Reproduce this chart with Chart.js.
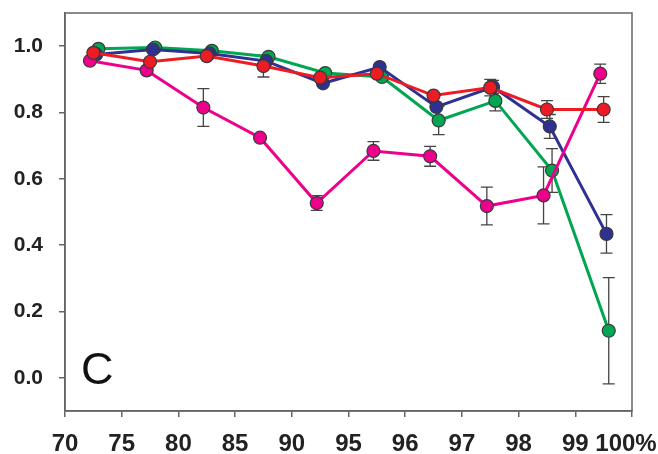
<!DOCTYPE html>
<html>
<head>
<meta charset="utf-8">
<script src="https://cdn.jsdelivr.net/npm/chart.js@4"></script>
<style>
  html, body { margin: 0; padding: 0; background: #fff; }
  #wrap { width: 658px; height: 454px; }
</style>
</head>
<body>
<div id="wrap"><canvas id="chart"></canvas></div>
<script>
// tick labels (x axis is evenly spaced, not linear in %)
const xTickLabels = ['70', '75', '80', '85', '90', '95', '96', '97', '98', '99', '100%'];
const yTicks = [0.0, 0.2, 0.4, 0.6, 0.8, 1.0];

// series values, one per interval
const pink = [0.956, 0.927, 0.815, 0.724, 0.527, 0.684, 0.668, 0.518, 0.550, 0.917];
const pinkErr = [0, 0, 0.057, 0, 0.022, 0.028, 0.030, 0.057, 0.086, 0.029];
const red = [0.980, 0.953, 0.970, 0.940, 0.905, 0.917, 0.851, 0.875, 0.809, 0.809];
const redErr = [0, 0, 0, 0.033, 0, 0, 0, 0.025, 0.027, 0.039];
const blue = [0.975, 0.990, 0.978, 0.955, 0.888, 0.937, 0.817, 0.877, 0.758, 0.434];
const blueErr = [0, 0, 0, 0, 0, 0, 0.010, 0.020, 0.036, 0.058];
const green = [0.992, 0.996, 0.986, 0.968, 0.919, 0.907, 0.776, 0.835, 0.625, 0.142];
const greenErr = [0, 0, 0, 0, 0, 0, 0.043, 0.030, 0.066, 0.160];

const panelLabel = 'C';

function points(values, shift) {
  return values.map((v, i) => ({ x: i + 0.5 + shift, y: v }));
}

function series(values, errs, color, shift) {
  return {
    data: points(values, shift),
    errs: errs,
    borderColor: color,
    backgroundColor: color,
    borderWidth: 3,
    pointRadius: 6.5,
    pointBorderColor: '#3a3a3a',
    pointBorderWidth: 1.2,
    pointBackgroundColor: color,
    tension: 0
  };
}

const errorBars = {
  id: 'errorBars',
  beforeDatasetsDraw(chart) {
    const ctx = chart.ctx;
    const xs = chart.scales.x, ys = chart.scales.y;
    ctx.save();
    ctx.strokeStyle = '#444';
    ctx.lineWidth = 1.3;
    chart.data.datasets.forEach(ds => {
      ds.data.forEach((p, i) => {
        const e = ds.errs[i];
        if (!e) return;
        const px = xs.getPixelForValue(p.x);
        const top = ys.getPixelForValue(p.y + e);
        const bot = ys.getPixelForValue(p.y - e);
        ctx.beginPath();
        ctx.moveTo(px, top); ctx.lineTo(px, bot);
        ctx.moveTo(px - 6, top); ctx.lineTo(px + 6, top);
        ctx.moveTo(px - 6, bot); ctx.lineTo(px + 6, bot);
        ctx.stroke();
      });
    });
    ctx.restore();
  }
};

const frame = {
  id: 'frame',
  afterDraw(chart) {
    const { ctx, chartArea: a } = chart;
    ctx.save();
    ctx.strokeStyle = '#666';
    ctx.lineWidth = 1.5;
    ctx.strokeRect(a.left, a.top, a.right - a.left, a.bottom - a.top);
    ctx.fillStyle = '#111';
    ctx.font = '45px "Liberation Sans", Arial, sans-serif';
    ctx.textBaseline = 'alphabetic';
    ctx.fillText(panelLabel, a.left + 16, chart.scales.y.getPixelForValue(0) + 6);
    ctx.restore();
  }
};

new Chart(document.getElementById('chart'), {
  type: 'line',
  data: {
    datasets: [
      series(red, redErr, '#ec1c24', 0),
      series(pink, pinkErr, '#ec008c', -0.06),
      series(blue, blueErr, '#2e3192', 0.05),
      series(green, greenErr, '#00a651', 0.09)
    ]
  },
  options: {
    responsive: true,
    maintainAspectRatio: false,
    animation: false,
    layout: { padding: { top: 13, left: 0, right: 0, bottom: 0 } },
    plugins: { legend: { display: false }, tooltip: { enabled: false } },
    scales: {
      x: {
        type: 'linear',
        min: 0,
        max: 10,
        afterBuildTicks: axis => { axis.ticks = xTickLabels.map((_, i) => ({ value: i })); },
        afterFit: axis => { axis.height = 43; axis.paddingRight = 26; axis.paddingLeft = 0; },
        ticks: {
          autoSkip: false,
          maxRotation: 0,
          padding: 13,
          color: '#222',
          font: { family: '"Liberation Sans", Arial, sans-serif', size: 24, weight: 'bold' },
          callback: v => (v === 10 ? xTickLabels[v] + '\u2002' : xTickLabels[v])
        },
        grid: { drawOnChartArea: false, tickLength: 6, color: '#666', lineWidth: 1.5 },
        border: { color: '#666', width: 1.5 }
      },
      y: {
        min: -0.1,
        max: 1.1,
        afterBuildTicks: axis => { axis.ticks = yTicks.map(v => ({ value: v })); },
        afterFit: axis => { axis.width = 65; axis.paddingTop = 0; axis.paddingBottom = 0; },
        ticks: {
          padding: 16,
          color: '#222',
          font: { family: '"Liberation Sans", Arial, sans-serif', size: 21, weight: 'bold' },
          callback: v => v.toFixed(1)
        },
        grid: { drawOnChartArea: false, tickLength: 6, color: '#666', lineWidth: 1.5 },
        border: { color: '#666', width: 1.5 }
      }
    }
  },
  plugins: [errorBars, frame]
});
</script>
</body>
</html>
